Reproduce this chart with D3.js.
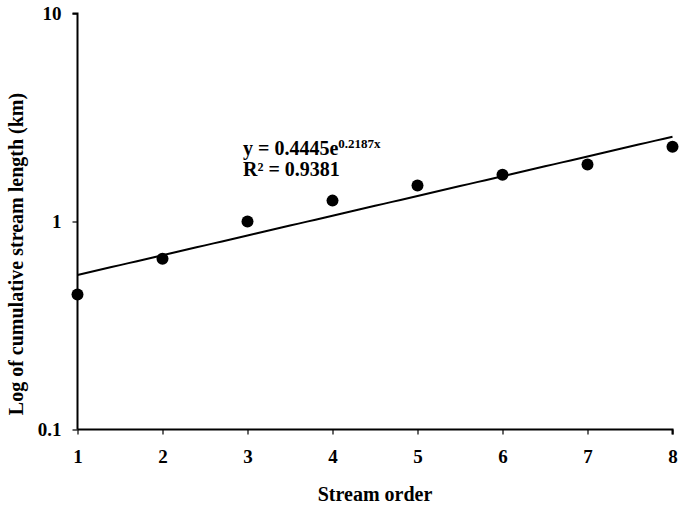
<!DOCTYPE html>
<html><head><meta charset="utf-8">
<script src="https://cdn.jsdelivr.net/npm/d3@7"></script>
<style>body{margin:0;background:#fff}svg{display:block}text{font-family:"Liberation Serif","Times New Roman",serif;font-weight:bold;fill:#000}</style>
</head><body>
<svg id="c" width="685" height="511"></svg>
<script>
const streamOrder = [1,2,3,4,5,6,7,8];
const cumLength = [0.446,0.662,1.0,1.26,1.49,1.68,1.88,2.29];
const xTicks = [1,2,3,4,5,6,7,8];
const yTicks = [0.1,1,10];
const fitA = 0.4445, fitB = 0.2187;

const svg = d3.select("#c");
const x = d3.scaleLinear().domain([1,8]).range([77.5,672.5]);
const y = d3.scaleLog().domain([0.1,10]).range([429.5,13.5]);

const xAxis = d3.axisBottom(x).tickValues(xTicks).tickFormat(d3.format("d")).tickSize(5).tickPadding(15);
const gx = svg.append("g").attr("transform","translate(0,429.5)").call(xAxis);
gx.select(".domain").attr("stroke","#000").attr("stroke-width",2).attr("d","M77.5,0H672.5V5");
gx.selectAll("text").style("font-size","19px").attr("fill","#000");
gx.selectAll("line").attr("stroke-width",1.2);

const yAxis = d3.axisLeft(y).tickValues(yTicks).tickFormat(d=>String(d)).tickSize(5).tickPadding(11);
const gy = svg.append("g").attr("transform","translate(77.5,0)").call(yAxis);
gy.select(".domain").attr("stroke","#000").attr("stroke-width",2).attr("d","M-5,13.5H0V429.5");
gy.selectAll("text").style("font-size","19px").attr("fill","#000");
gy.selectAll("line").attr("stroke-width",1.2);

// trend line
svg.append("path").datum(d3.range(1,8.001,0.1))
  .attr("d", d3.line().x(d=>x(d)).y(d=>y(fitA*Math.exp(fitB*d))))
  .attr("fill","none").attr("stroke","#000").attr("stroke-width",2);

svg.selectAll("circle.pt").data(streamOrder).enter().append("circle")
  .attr("cx",(d)=>x(d)).attr("cy",(d,i)=>y(cumLength[i])).attr("r",6).attr("fill","#000");

const eq = svg.append("text").attr("x",243).attr("y",155).style("font-size","20px");
eq.append("tspan").text("y = 0.4445e");
eq.append("tspan").attr("dy",-7).style("font-size","13px").text("0.2187x");
svg.append("text").attr("x",243).attr("y",176).style("font-size","20px").text("R² = 0.9381");

svg.append("text").attr("x",375).attr("y",501).attr("text-anchor","middle").style("font-size","20px").text("Stream order");
svg.append("text").attr("transform","translate(23,254) rotate(-90)").attr("text-anchor","middle").style("font-size","20px").text("Log of cumulative stream length (km)");
</script>
</body></html>
